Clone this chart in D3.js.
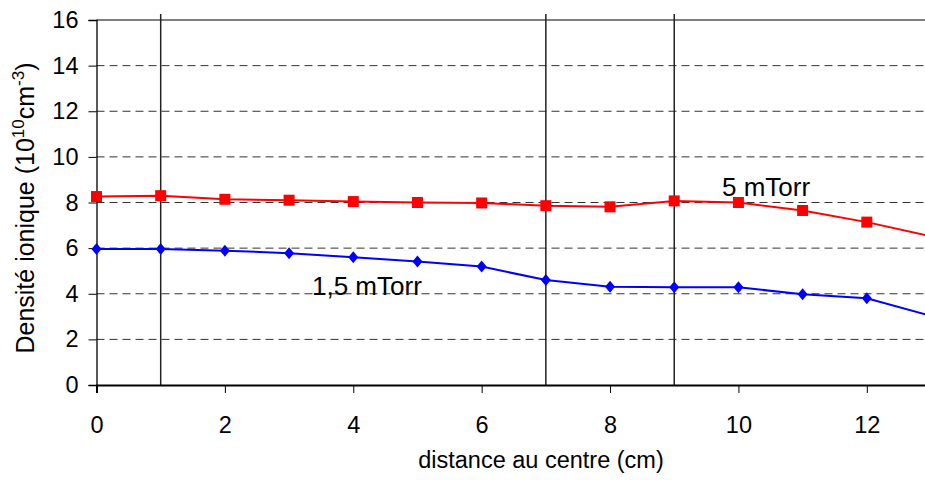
<!DOCTYPE html>
<html>
<head>
<meta charset="utf-8">
<script src="https://cdn.jsdelivr.net/npm/d3@7"></script>
<style>
  body { margin: 0; background: #fff; }
  svg { display: block; font-family: Arial, "Liberation Sans", sans-serif; }
</style>
</head>
<body>
<div id="chart"><svg width="925" height="480"></svg></div>
<script>
// distances (cm)
const distances = [0, 1, 2, 3, 4, 5, 6, 7, 8, 9, 10, 11, 12, 13];
// ion density at 5 mTorr (1e10 cm-3)
const dens5 = [8.26, 8.3, 8.14, 8.1, 8.04, 8.0, 7.98, 7.86, 7.81, 8.07, 8.0, 7.65, 7.14, 6.52];
// ion density at 1,5 mTorr
const dens15 = [5.96, 5.96, 5.89, 5.78, 5.6, 5.41, 5.19, 4.6, 4.31, 4.28, 4.28, 3.98, 3.8, 3.03];
const xTicks = [0, 2, 4, 6, 8, 10, 12];
const yTicks = [0, 2, 4, 6, 8, 10, 12, 14, 16];
const probeLines = [1, 7, 9];

const svg = d3.select("svg");

const xScale = d3.scaleLinear().domain([0, 13]).range([96.5, 931]);
const yScale = d3.scaleLinear().domain([0, 16]).range([385, 20]);

/***** gridlines *****/
svg.append("g")
    .selectAll("line")
    .data(yTicks.filter(d => d > 0 && d < 16))
    .join("line")
    .attr("x1", xScale(0)).attr("x2", 925)
    .attr("y1", d => yScale(d)).attr("y2", d => yScale(d))
    .attr("stroke", "#333")
    .attr("stroke-width", 1)
    .attr("stroke-dasharray", "8,5");

// top frame
svg.append("line")
    .attr("x1", xScale(0)).attr("x2", 925)
    .attr("y1", yScale(16)).attr("y2", yScale(16))
    .attr("stroke", "#000").attr("stroke-width", 1);

// vertical reference lines
svg.append("g")
    .selectAll("line")
    .data(probeLines)
    .join("line")
    .attr("x1", d => xScale(d)).attr("x2", d => xScale(d))
    .attr("y1", 14).attr("y2", yScale(0))
    .attr("stroke", "#222")
    .attr("stroke-width", 1.5);

/***** axes *****/
const yAxis = svg.append("g")
    .attr("transform", `translate(${xScale(0)},0)`)
    .call(d3.axisLeft(yScale).tickValues(yTicks).tickSize(8).tickPadding(10).tickFormat(d3.format("d")));
yAxis.select(".domain").attr("stroke", "#000").attr("stroke-width", 1.3);
yAxis.selectAll("text").style("font-size", "23.5px").attr("fill", "#000");

const xAxis = svg.append("g")
    .attr("transform", `translate(0,${yScale(0)})`)
    .call(d3.axisBottom(xScale).tickValues(xTicks).tickSizeOuter(0).tickSize(8).tickPadding(23).tickFormat(d3.format("d")));
xAxis.select(".domain").attr("stroke", "#000").attr("stroke-width", 2);
xAxis.selectAll("text").style("font-size", "23.5px").attr("fill", "#000");

/***** series *****/
const line = d3.line().x((d, i) => xScale(distances[i])).y(d => yScale(d));

svg.append("path")
    .datum(dens5)
    .attr("d", line)
    .attr("fill", "none")
    .attr("stroke", "#ff0000")
    .attr("stroke-width", 2);

svg.append("path")
    .datum(dens15)
    .attr("d", line)
    .attr("fill", "none")
    .attr("stroke", "#0000ff")
    .attr("stroke-width", 2);

svg.append("g")
    .selectAll("rect")
    .data(dens5)
    .join("rect")
    .attr("x", (d, i) => xScale(distances[i]) - 5.5)
    .attr("y", d => yScale(d) - 5.5)
    .attr("width", 11).attr("height", 11)
    .attr("fill", "#ff0000");

svg.append("g")
    .selectAll("path")
    .data(dens15)
    .join("path")
    .attr("transform", (d, i) => `translate(${xScale(distances[i])},${yScale(d)})`)
    .attr("d", "M0,-6L5,0L0,6L-5,0Z")
    .attr("fill", "#0000ff");

/***** labels *****/
svg.append("text")
    .attr("x", 722).attr("y", 196)
    .style("font-size", "26px")
    .text("5 mTorr");

svg.append("text")
    .attr("x", 312).attr("y", 295)
    .style("font-size", "26px")
    .text("1,5 mTorr");

svg.append("text")
    .attr("x", 541).attr("y", 468)
    .attr("text-anchor", "middle")
    .style("font-size", "23.5px")
    .text("distance au centre (cm)");

const yTitle = svg.append("text")
    .attr("transform", "translate(34,208) rotate(-90)")
    .attr("text-anchor", "middle")
    .style("font-size", "25px");
yTitle.append("tspan").text("Densité ionique (10");
yTitle.append("tspan").attr("dy", -10).style("font-size", "17px").text("10");
yTitle.append("tspan").attr("dy", 10).text("cm");
yTitle.append("tspan").attr("dy", -10).style("font-size", "17px").text("-3");
yTitle.append("tspan").attr("dy", 10).text(")");
</script>
</body>
</html>
